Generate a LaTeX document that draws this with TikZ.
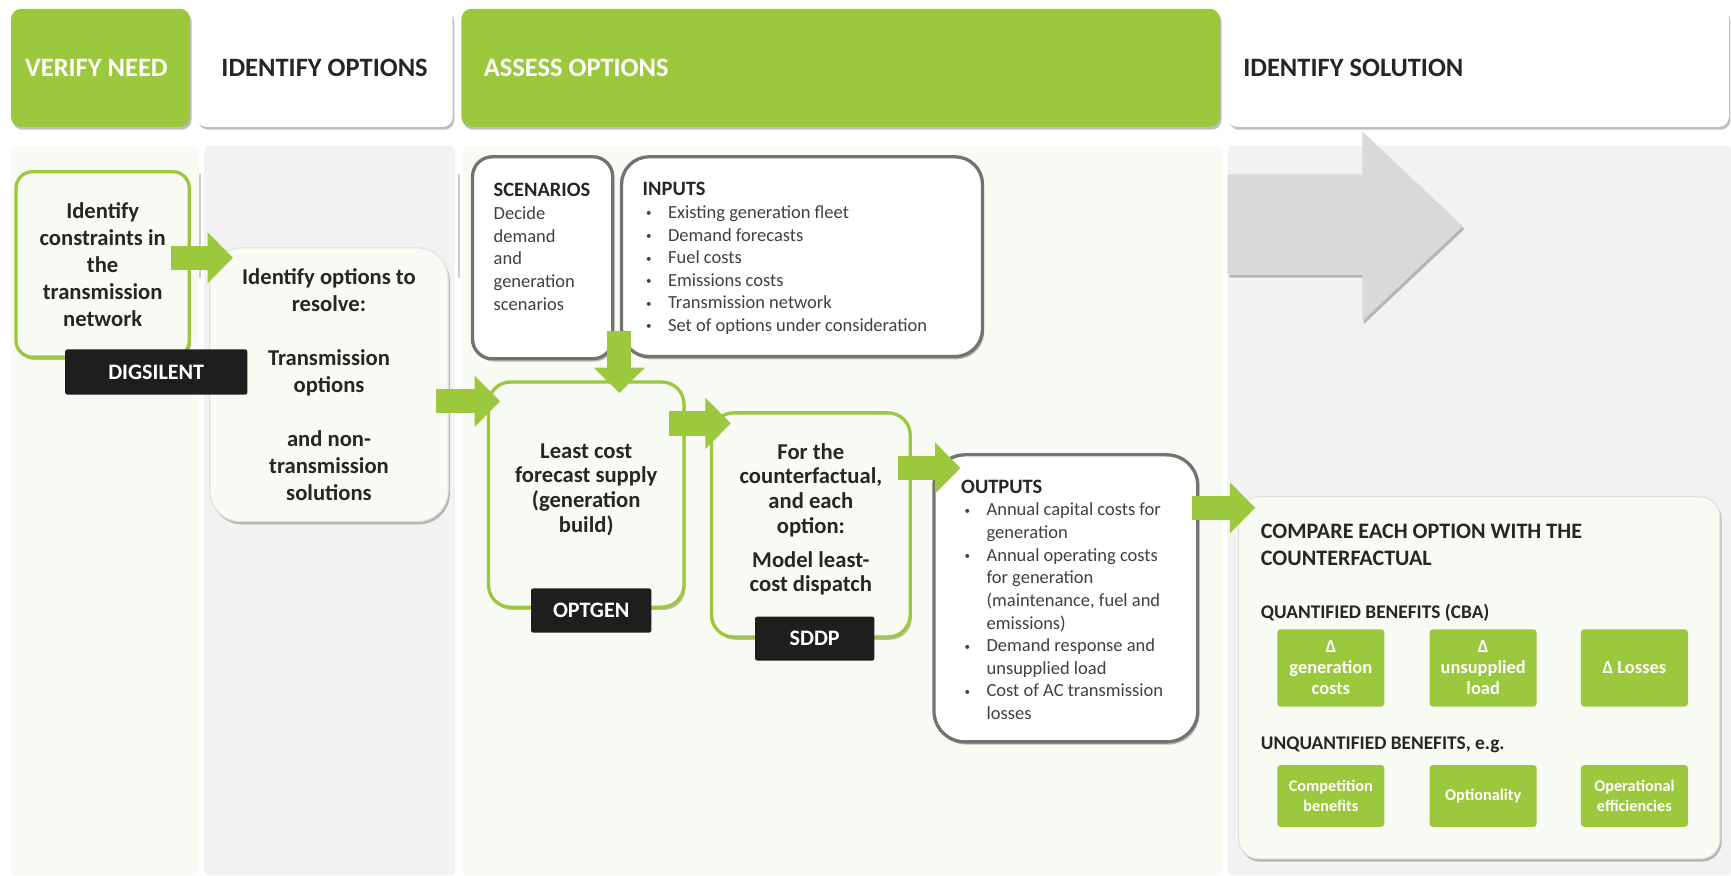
\documentclass[tikz,border=0pt]{standalone}
\usepackage{fontspec}
\setmainfont{Carlito}
\usetikzlibrary{arrows.meta,shadows}
\definecolor{gr}{HTML}{9BC83C}
\definecolor{lgr}{HTML}{F8FAF4}
\definecolor{lgy}{HTML}{F2F2F2}
\definecolor{txt}{HTML}{262626}
\definecolor{bodytxt}{HTML}{404040}
\definecolor{bord}{HTML}{737373}
\definecolor{blk}{HTML}{1E1E1E}
\definecolor{garr}{HTML}{D9D9D9}
\newcommand{\bul}{\makebox[23pt][l]{\hspace*{3pt}\raisebox{1.5pt}{\fontsize{10}{10}\selectfont\textbullet}}}
\newcommand{\ind}{\hspace*{23pt}}
\newcommand{\ttl}[1]{\textcolor{txt}{\fontsize{18.5}{20.5}\selectfont\bfseries #1}}
\begin{document}
\begin{tikzpicture}[x=1pt,y=-1pt,
 shd/.style={drop shadow={shadow xshift=1.5pt,shadow yshift=-2.5pt,opacity=0.25,fill=black}},
 hdr/.style={rounded corners=9pt,minimum height=107pt,inner sep=0pt,shd},
 htxt/.style={font={\fontsize{24}{28}\selectfont\bfseries},inner sep=0pt},
 gbox/.style={draw=gr,line width=3pt,fill=lgr,shd,inner sep=0pt},
 kbox/.style={draw=bord,line width=3pt,fill=white,shd,inner sep=0pt},
 btxt/.style={font={\fontsize{20.5}{24.5}\selectfont\bfseries},text=txt,align=center,inner sep=0pt},
 btxtb/.style={font={\fontsize{20.5}{22.3}\selectfont\bfseries},text=txt,align=center,inner sep=0pt},
 body/.style={font={\fontsize{16.75}{20.5}\selectfont},text=bodytxt,align=left,inner sep=0pt,anchor=north west},
 lab/.style={fill=blk,text=white,font={\fontsize{20}{22}\selectfont\bfseries},inner sep=0pt,rounded corners=2pt},
 sq/.style={fill=gr,rounded corners=3pt,text=white,font={\fontsize{16.7}{19}\selectfont\bfseries},align=center,inner sep=0pt},
 sqb/.style={sq,font={\fontsize{14.75}{17.5}\selectfont\bfseries}},
 garrow/.style={draw=gr,line width=22pt,-{Triangle[length=23pt,width=45pt]}}
]
\useasboundingbox (0,0) rectangle (1568,793);
\fill[white] (0,0) rectangle (1568,793);
% column backgrounds
\fill[lgr,rounded corners=4pt] (10,132) rectangle (180,793);
\fill[lgy,rounded corners=4pt] (185,132) rectangle (412,793);
\fill[lgr,rounded corners=4pt] (419,132) rectangle (1108,793);
\fill[lgy,rounded corners=4pt] (1112,132) rectangle (1568,793);
\draw[black!20,line width=2pt] (181,158) -- (181,252);
\draw[black!20,line width=2pt] (415.5,158) -- (415.5,252);
% headers
\node[hdr,fill=gr,minimum width=162pt] (hverify) at (91,61.5) {};
\node[htxt,text=white,anchor=west] (hverifyt) at (22.6,61.5) {VERIFY NEED};
\node[hdr,fill=white,minimum width=232pt] (hident) at (294,61.5) {};
\node[htxt,text=txt] (hidentt) at (294,61.5) {IDENTIFY OPTIONS};
\node[hdr,fill=gr,minimum width=687pt] (hassess) at (761.5,61.5) {};
\node[htxt,text=white,anchor=west] (hassesst) at (438,61.5) {ASSESS OPTIONS};
\node[hdr,fill=white,minimum width=454pt] (hsol) at (1339,61.5) {};
\node[htxt,text=txt,anchor=west] (hsolt) at (1126,61.5) {IDENTIFY SOLUTION};
% big grey arrow
\path[fill=garr,shd] (1112,158) -- (1234,158) -- (1234,119) -- (1325,205) -- (1234,291) -- (1234,249) -- (1112,249) -- cycle;
% boxes
\node[gbox,btxt,rounded corners=15pt,minimum width=157pt,minimum height=168pt] (cons) at (93,239.5) {Identify\\constraints in\\the\\transmission\\network};
\node[fill=lgr,draw=black!12,line width=1pt,shd,btxt,rounded corners=28pt,minimum width=216pt,minimum height=248pt] (opts) at (298,348.5) {Identify options to\\resolve:\\[24.5pt]Transmission\\options\\[24pt]and non-\\transmission\\solutions};
\node[kbox,rounded corners=18pt,minimum width=127pt,minimum height=183pt] (scn) at (491.5,233.5) {};
\node[body] (scntxt) at (447,166) {\ttl{SCENARIOS}\\Decide\\demand\\and\\generation\\scenarios};
\node[kbox,rounded corners=25pt,minimum width=327pt,minimum height=181pt] (inp) at (726.5,232.5) {};
\node[body] (inptxt) at (582,165) {\ttl{INPUTS}\\\bul Existing generation fleet\\\bul Demand forecasts\\\bul Fuel costs\\\bul Emissions costs\\\bul Transmission network\\\bul Set of options under consideration};
\node[gbox,rounded corners=20pt,minimum width=177pt,minimum height=204pt] (lc) at (531,448) {};
\node[btxtb] (lctxt) at (531,443.5) {Least cost\\forecast supply\\(generation\\build)};
\node[gbox,rounded corners=20pt,minimum width=180pt,minimum height=203pt] (ft) at (734.5,475.5) {};
\node[btxtb] (fttxt) at (734.5,470.5) {For the\\counterfactual,\\and each\\option:\\[8.5pt]Model least-\\cost dispatch};
\node[kbox,rounded corners=28pt,minimum width=239pt,minimum height=260pt] (out) at (965.5,542) {};
\node[body] (outtxt) at (870.5,434.5) {\ttl{OUTPUTS}\\\bul Annual capital costs for\\\ind generation\\\bul Annual operating costs\\\ind for generation\\\ind (maintenance, fuel and\\\ind emissions)\\\bul Demand response and\\\ind unsupplied load\\\bul Cost of AC transmission\\\ind losses};
\node[fill=lgr,draw=black!12,line width=1pt,shd,inner sep=0pt,rounded corners=18pt,minimum width=436pt,minimum height=328pt] (cmp) at (1340,614) {};
\node[body,text=txt,font={\fontsize{20}{24}\selectfont\bfseries}] (cmptxt) at (1142,474.5) {COMPARE EACH OPTION WITH THE\\COUNTERFACTUAL};
\node[body,text=txt,font={\fontsize{17.5}{20}\selectfont\bfseries}] (qtxt) at (1142,547.5) {QUANTIFIED BENEFITS (CBA)};
\node[body,text=txt,font={\fontsize{17.5}{20}\selectfont\bfseries}] (utxt) at (1142,667.5) {UNQUANTIFIED BENEFITS, e.g.};
\node[sq,minimum width=97pt,minimum height=70pt] (q1) at (1205.5,605) {Δ\\generation\\costs};
\node[sq,minimum width=97pt,minimum height=70pt] (q2) at (1343.5,605) {Δ\\unsupplied\\load};
\node[sq,minimum width=97pt,minimum height=70pt] (q3) at (1480.5,605) {Δ Losses};
\node[sqb,minimum width=97pt,minimum height=56pt] (u1) at (1205.5,721) {Competition\\benefits};
\node[sqb,minimum width=97pt,minimum height=56pt] (u2) at (1343.5,721) {Optionality};
\node[sqb,minimum width=97pt,minimum height=56pt] (u3) at (1480.5,721) {Operational\\efficiencies};
% green arrows
\coordinate (a1s) at (155,233.5); \coordinate (a1e) at (211,233.5);
\coordinate (a2s) at (395,363.5); \coordinate (a2e) at (453,363.5);
\coordinate (a3s) at (606,383.5); \coordinate (a3e) at (662,383.5);
\coordinate (a4s) at (813,424); \coordinate (a4e) at (870,424);
\coordinate (a5s) at (1080,460); \coordinate (a5e) at (1137,460);
\coordinate (a6s) at (561,300); \coordinate (a6e) at (561,356);
\draw[garrow] (a1s) -- (a1e);
\draw[garrow] (a2s) -- (a2e);
\draw[garrow] (a3s) -- (a3e);
\draw[garrow] (a4s) -- (a4e);
\draw[garrow] (a5s) -- (a5e);
\draw[garrow] (a6s) -- (a6e);
% tool labels
\node[lab,minimum width=165pt,minimum height=41pt] (dig) at (141.5,337) {DIGSILENT};
\node[lab,minimum width=109pt,minimum height=40pt] (optgen) at (535.5,553) {OPTGEN};
\node[lab,minimum width=108pt,minimum height=40pt] (sddp) at (738,578.5) {SDDP};
\end{tikzpicture}
\end{document}
